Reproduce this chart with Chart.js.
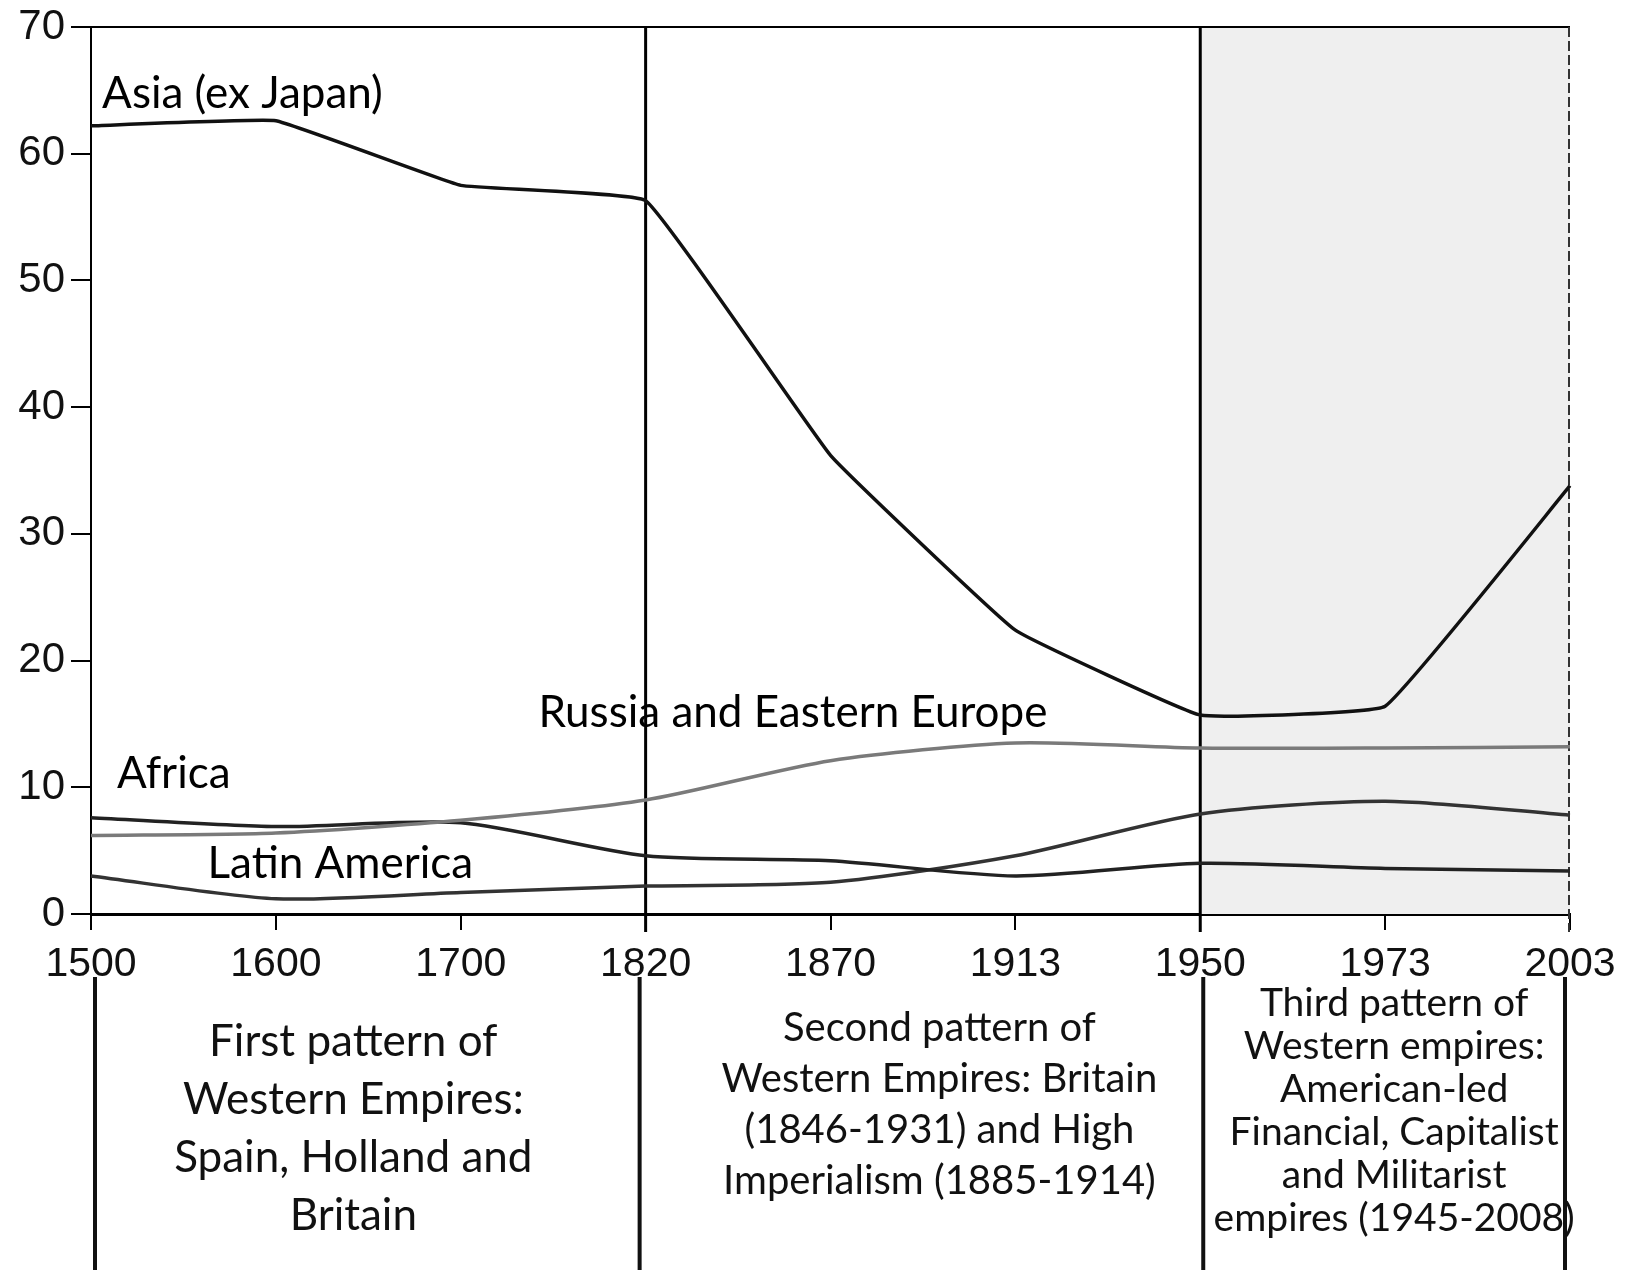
<!DOCTYPE html>
<html>
<head>
<meta charset="utf-8">
<script src="https://cdn.jsdelivr.net/npm/chart.js@4.4.1/dist/chart.umd.min.js"></script>
<style>
  html, body { margin: 0; padding: 0; background: #fff; }
  canvas { display: block; }
</style>
</head>
<body>
<canvas id="shareChart" width="1625" height="1270"></canvas>
<script>
// Share of world GDP by region, 1500-2003
const years = ['1500', '1600', '1700', '1820', '1870', '1913', '1950', '1973', '2003'];
const asia = [62.2, 62.6, 57.5, 56.3, 36.2, 22.4, 15.7, 16.4, 33.8];
const russiaEE = [6.2, 6.4, 7.4, 9.0, 12.1, 13.5, 13.1, 13.1, 13.2];
const africa = [7.6, 6.9, 7.2, 4.6, 4.2, 3.0, 4.0, 3.6, 3.4];
const latinAmerica = [3.0, 1.2, 1.7, 2.2, 2.5, 4.6, 7.9, 8.9, 7.8];
const yTicks = [0, 10, 20, 30, 40, 50, 60, 70];

// era boundaries (category index) and the boxed captions below the axis
const eraLines = [0, 3, 6, 8];
const eraTexts = [
  ['First pattern of', 'Western Empires:', 'Spain, Holland and', 'Britain'],
  ['Second pattern of', 'Western Empires: Britain', '(1846-1931) and High', 'Imperialism (1885-1914)'],
  ['Third pattern of', 'Western empires:', 'American-led', 'Financial, Capitalist', 'and Militarist', 'empires (1945-2008)']
];

const textFont = "Lato, 'Open Sans', sans-serif";
const tickFont = "'Liberation Sans Narrow', 'Liberation Sans', Arial, sans-serif";

const decorations = {
  id: 'decorations',
  beforeDatasetsDraw(chart) {
    const { ctx, chartArea: a, scales: { x } } = chart;
    ctx.save();
    // shaded post-1950 period
    const x1950 = x.getPixelForValue(6), x2003 = x.getPixelForValue(8);
    ctx.fillStyle = '#efefef';
    ctx.fillRect(x1950, a.top, x2003 - x1950, a.bottom - a.top);
    // frame top
    ctx.strokeStyle = '#000';
    ctx.lineWidth = 2;
    ctx.beginPath();
    ctx.moveTo(a.left, a.top);
    ctx.lineTo(a.right, a.top);
    ctx.stroke();
    // right edge, faint dashed
    ctx.strokeStyle = '#333';
    ctx.setLineDash([10, 4]);
    ctx.beginPath();
    ctx.moveTo(a.right - 1, a.top);
    ctx.lineTo(a.right - 1, a.bottom + 18);
    ctx.stroke();
    ctx.setLineDash([]);
    // era dividers inside plot
    ctx.lineWidth = 3;
    ctx.strokeStyle = '#000';
    [3, 6].forEach(i => {
      const px = x.getPixelForValue(i);
      ctx.beginPath();
      ctx.moveTo(px, a.top);
      ctx.lineTo(px, a.bottom + 18);
      ctx.stroke();
    });
    ctx.restore();
  },
  afterDraw(chart) {
    const { ctx, scales: { x, y } } = chart;
    ctx.save();
    // series labels
    ctx.fillStyle = '#000';
    ctx.textBaseline = 'middle';
    ctx.textAlign = 'left';
    ctx.font = '44px ' + textFont;
    ctx.fillText('Asia (ex Japan)', x.getPixelForValue(0.06), y.getPixelForValue(64.7));
    ctx.fillText('Russia and Eastern Europe', x.getPixelForValue(2.42), y.getPixelForValue(15.9));
    ctx.fillText('Africa', x.getPixelForValue(0.14), y.getPixelForValue(11.1));
    ctx.fillText('Latin America', x.getPixelForValue(0.63), y.getPixelForValue(4.0));

    // era boundary lines under the axis
    const top = 977, bottom = chart.height;
    const shift = [4, -6, 3, -5];
    ctx.strokeStyle = '#111';
    ctx.lineWidth = 4;
    const px = eraLines.map((i, k) => x.getPixelForValue(i) + shift[k]);
    px.forEach(p => {
      ctx.beginPath();
      ctx.moveTo(p, top);
      ctx.lineTo(p, bottom);
      ctx.stroke();
    });

    // era captions
    const sizes = [44, 40, 39];
    const spacing = [58, 51, 43];
    const firstLine = [1042, 1028, 1003];
    const nudge = [-14, 18, 10];
    ctx.textAlign = 'center';
    ctx.fillStyle = '#111';
    eraTexts.forEach((lines, k) => {
      const cx = (px[k] + px[k + 1]) / 2 + nudge[k];
      ctx.font = sizes[k] + 'px ' + textFont;
      lines.forEach((t, j) => ctx.fillText(t, cx, firstLine[k] + j * spacing[k]));
    });
    ctx.restore();
  }
};

new Chart(document.getElementById('shareChart'), {
  type: 'line',
  data: {
    labels: years,
    datasets: [
      { label: 'Asia (ex Japan)', data: asia, borderColor: '#111', borderWidth: 3.5, tension: 0.08 },
      { label: 'Russia and Eastern Europe', data: russiaEE, borderColor: '#7a7a7a', borderWidth: 3.5, tension: 0.25 },
      { label: 'Africa', data: africa, borderColor: '#222', borderWidth: 3.5, tension: 0.25 },
      { label: 'Latin America', data: latinAmerica, borderColor: '#333', borderWidth: 3.5, tension: 0.25 }
    ]
  },
  options: {
    responsive: false,
    animation: false,
    events: [],
    elements: { point: { radius: 0 } },
    layout: { padding: { top: 23, right: 55, left: 0, bottom: 0 } },
    plugins: {
      legend: { display: false },
      tooltip: { enabled: false }
    },
    scales: {
      x: {
        afterFit(scale) { scale.height = 356; scale.paddingRight = 0; },
        grid: { drawOnChartArea: false, drawTicks: true, tickLength: 16, color: '#000', lineWidth: 2 },
        border: { display: true, color: '#000', width: 3 },
        ticks: {
          color: '#111', padding: 14, maxRotation: 0, autoSkip: false,
          font: { family: tickFont, size: 41, lineHeight: 1 }
        }
      },
      y: {
        min: 0, max: 70,
        afterFit(scale) { scale.width = 91; },
        afterBuildTicks(scale) { scale.ticks = yTicks.map(v => ({ value: v })); },
        grid: { drawOnChartArea: false, drawTicks: true, tickLength: 20, color: '#000', lineWidth: 2 },
        border: { display: true, color: '#000', width: 2 },
        ticks: {
          color: '#111', padding: 6,
          font: { family: tickFont, size: 42, lineHeight: 1 }
        }
      }
    }
  },
  plugins: [decorations]
});
</script>
</body>
</html>
